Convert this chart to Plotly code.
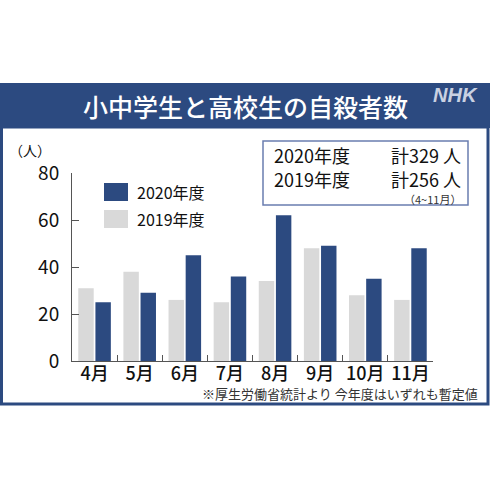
import plotly.graph_objects as go

months = ["4月", "5月", "6月", "7月", "8月", "9月", "10月", "11月"]
v2019 = [31, 38, 26, 25, 34, 48, 28, 26]
v2020 = [25, 29, 45, 36, 62, 49, 35, 48]
yticks = [0, 20, 40, 60, 80]

BLUE = "#2c4a80"
GRAY = "#d9d9d9"
FONT = "Noto Sans CJK JP, Noto Sans, sans-serif"

W = H = 490
L, R, T, B = 72, 433, 173, 361


def px(x):
    return (x - L) / (R - L)


def py(y):
    return (B - y) / (B - T)


fig = go.Figure()
fig.add_bar(x=months, y=v2019, marker=dict(color=GRAY, line=dict(width=0)), name="2019年度")
fig.add_bar(x=months, y=v2020, marker=dict(color=BLUE, line=dict(width=0)), name="2020年度")

shapes = []
# title bar
shapes.append(dict(type="rect", xref="paper", yref="paper", x0=px(0), x1=px(490), y0=py(128), y1=py(83),
                   fillcolor=BLUE, line=dict(width=0), layer="below"))
# panel border
shapes.append(dict(type="rect", xref="paper", yref="paper", x0=px(1.5), x1=px(488), y0=py(404), y1=py(127),
                   fillcolor="rgba(0,0,0,0)", line=dict(color=BLUE, width=3), layer="below"))
# total box
shapes.append(dict(type="rect", xref="paper", yref="paper", x0=px(263), x1=px(468), y0=py(205), y1=py(141),
                   fillcolor="white", line=dict(color="#6a7db0", width=1.5)))
# legend swatches
shapes.append(dict(type="rect", xref="paper", yref="paper", x0=px(104), x1=px(128), y0=py(201), y1=py(183),
                   fillcolor=BLUE, line=dict(width=0)))
shapes.append(dict(type="rect", xref="paper", yref="paper", x0=px(104), x1=px(128), y0=py(228), y1=py(210),
                   fillcolor=GRAY, line=dict(width=0)))

ann = []


def text(x, y, s, size, color="#111", xanchor="center", family=FONT, weight="normal"):
    ann.append(dict(x=px(x), y=py(y), xref="paper", yref="paper", text=s, showarrow=False,
                    xanchor=xanchor, yanchor="middle",
                    font=dict(family=family, size=size, color=color, weight=weight)))


text(245, 106, "小中学生と高校生の自殺者数", 25, "white", weight=500)
text(455, 95, "<b><i>NHK</i></b>", 20, "#c9d1e2", family="Arial, Liberation Sans")
text(30, 150, "（人）", 14)
text(135, 192, "2020年度", 16, xanchor="left")
text(135, 219, "2019年度", 16, xanchor="left")
text(272, 155, "2020年度", 18, xanchor="left")
text(272, 179, "2019年度", 18, xanchor="left")
text(463, 155, "計329 人", 18, xanchor="right")
text(463, 179, "計256 人", 18, xanchor="right")
text(463, 199, "（4~11月）", 11, "#333", xanchor="right")
text(480, 393, "※厚生労働省統計より 今年度はいずれも暫定値", 13, "#333", xanchor="right")

fig.update_layout(
    width=W, height=H,
    margin=dict(l=L, r=W - R, t=T, b=H - B, pad=0),
    paper_bgcolor="white", plot_bgcolor="white",
    showlegend=False,
    barmode="group", bargap=0.24, bargroupgap=0.1,
    shapes=shapes, annotations=ann,
    xaxis=dict(type="category", range=[-0.5, 7.5], showgrid=False, showline=True, linecolor="#555",
               linewidth=1, ticks="inside", tickson="boundaries", ticklen=6, tickcolor="#555",
               tickangle=0, ticklabelstandoff=-4,
               tickfont=dict(family=FONT, size=18, color="#111", weight=500), fixedrange=True),
    yaxis=dict(range=[0, 80], tickvals=yticks, showgrid=False, showline=True, linecolor="#555",
               linewidth=1, ticks="inside", ticklen=7, tickcolor="#555", zeroline=False,
               tickfont=dict(family=FONT, size=19, color="#111"), ticklabelstandoff=8,
               fixedrange=True),
)
fig.write_html("out.html", config={"displayModeBar": False},
               post_script="document.body.style.margin='0';")
